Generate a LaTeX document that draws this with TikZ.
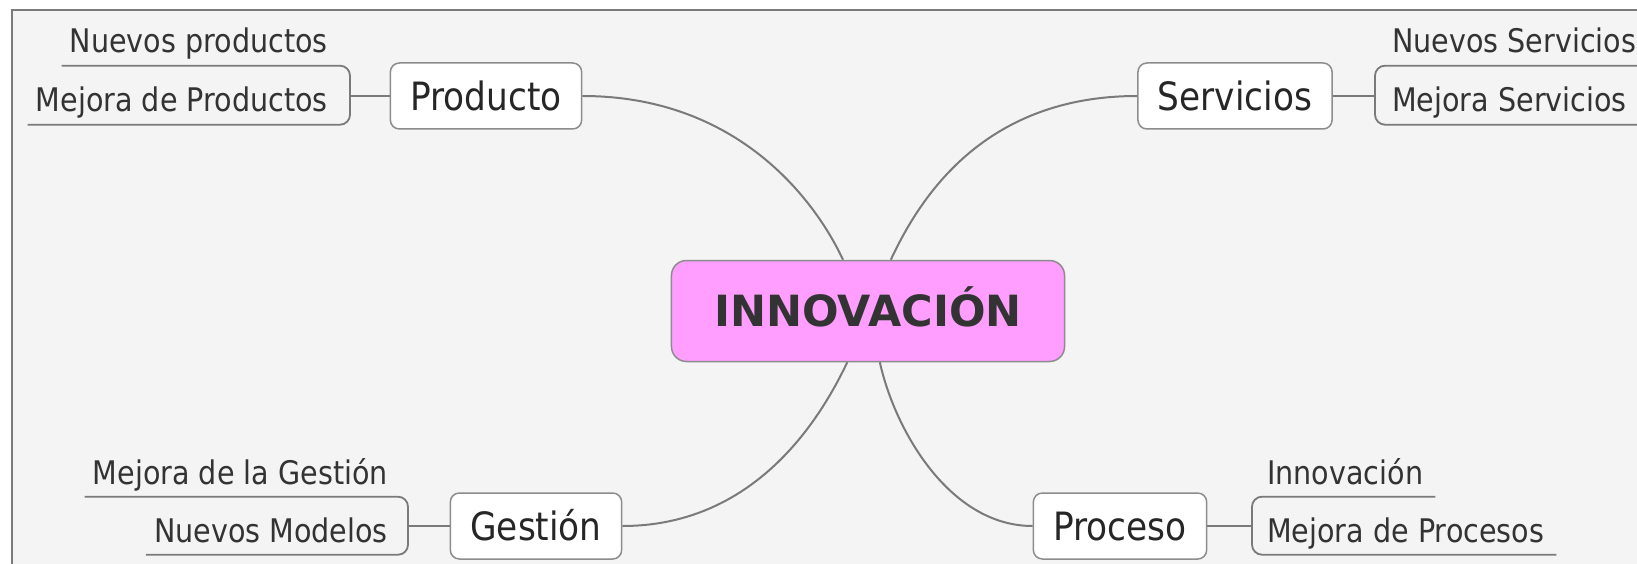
\documentclass[tikz,border=0pt]{standalone}
\usepackage{fontspec}
\setmainfont{DejaVu Sans}
\newfontfamily\angosta[FakeStretch=0.88]{DejaVu Sans}
\usepackage{tikz}
\usetikzlibrary{calc,positioning}
\definecolor{fondo}{HTML}{F4F4F4}
\definecolor{rosa}{HTML}{FF9EFF}
\definecolor{linea}{HTML}{7A7A7A}
\definecolor{borde}{HTML}{8C8C8C}
\definecolor{texto}{HTML}{333333}

\begin{document}
\begin{tikzpicture}[x=1pt, y=-1pt,
    rama/.style={draw=linea, line width=2pt},
    llave/.style={draw=linea, line width=1.8pt, rounded corners=10pt},
    ramabox/.style={draw=borde, line width=1.5pt, fill=white, rounded corners=9pt,
        font=\angosta\fontsize{39}{39}\selectfont, text=black!85,
        inner xsep=20pt, inner ysep=0pt, minimum height=66pt,
        text height=28.5pt, text depth=0pt},
    centro/.style={draw=borde, line width=1.5pt, fill=rosa, rounded corners=15pt,
        font=\bfseries\fontsize{43}{43}\selectfont, text=texto,
        inner xsep=43pt, inner ysep=0pt, minimum height=101pt,
        text height=31.5pt, text depth=0pt},
    hoja/.style={font=\angosta\fontsize{32.5}{32.5}\selectfont, text=texto,
        inner xsep=8pt, inner ysep=12.5pt, text height=24pt, text depth=0pt},
    hojader/.style={hoja, inner xsep=12pt}]
    \useasboundingbox (0,0) rectangle (1637,564);
    \draw[draw=linea, line width=2pt, fill=fondo] (12,10) rectangle (1660,590);

    % centro y ramas
    \node[centro] (innov) at (868,311) {INNOVACIÓN};
    \node[ramabox] (prod) at (486,96) {Producto};
    \node[ramabox] (serv) at (1235,96) {Servicios};
    \node[ramabox] (gest) at (536,526) {Gestión};
    \node[ramabox] (proc) at (1120,526) {Proceso};

    \draw[rama] (prod.east) .. controls +(155,0) and +(-28,-60) .. (innov.116);
    \draw[rama] (serv.west) .. controls +(-155,0) and +(28,-60) .. (innov.66);
    \draw[rama] (gest.east) .. controls +(138,0) and +(-23,48) .. (innov.-112);
    \draw[rama] (innov.-77) .. controls +(15,68) and +(-83,0) .. (proc.west);

    % hojas
    \node[hoja, anchor=base east] (nprod) at (336,53) {Nuevos productos};
    \node[hoja, anchor=base east] (mprod) at (336,112) {Mejora de Productos};
    \node[hojader, anchor=base west] (nserv) at (1380,53) {Nuevos Servicios};
    \node[hojader, anchor=base west] (mserv) at (1380,112) {Mejora Servicios};
    \node[hoja, anchor=base east] (mgest) at (396,484) {Mejora de la Gestión};
    \node[hoja, anchor=base east] (nmod) at (396,542) {Nuevos Modelos};
    \node[hojader, anchor=base west] (innovp) at (1255,484) {Innovación};
    \node[hojader, anchor=base west] (mproc) at (1255,542) {Mejora de Procesos};

    \coordinate (kprod) at (350,96);
    \coordinate (kserv) at (1375,96);
    \coordinate (kgest) at (408,526);
    \coordinate (kproc) at (1252,526);

    \draw[llave] (nprod.south west) -- (nprod.south west -| kprod) -- (mprod.south west -| kprod) -- (mprod.south west);
    \draw[llave] (nserv.south east) -- (nserv.south east -| kserv) -- (mserv.south east -| kserv) -- (mserv.south east);
    \draw[llave] (mgest.south west) -- (mgest.south west -| kgest) -- (nmod.south west -| kgest) -- (nmod.south west);
    \draw[llave] (innovp.south east) -- (innovp.south east -| kproc) -- (mproc.south east -| kproc) -- (mproc.south east);

    \draw[rama] (prod.west) -- (kprod);
    \draw[rama] (serv.east) -- (kserv);
    \draw[rama] (gest.west) -- (kgest);
    \draw[rama] (proc.east) -- (kproc);
\end{tikzpicture}
\end{document}
